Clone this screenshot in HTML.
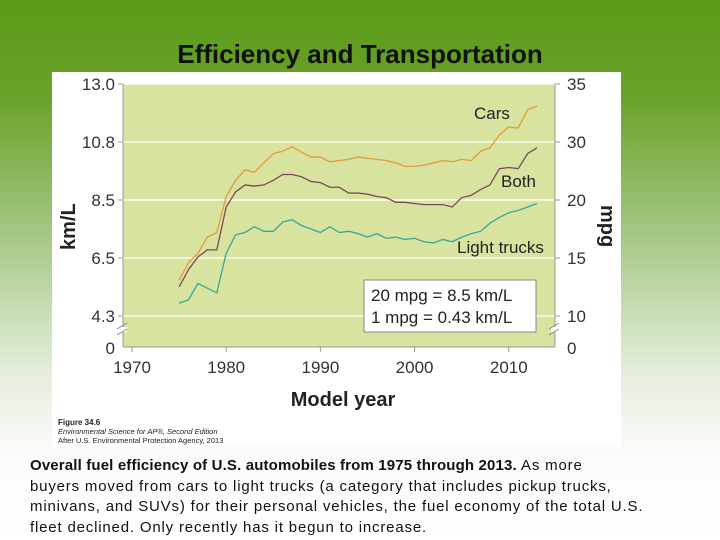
<!DOCTYPE html>
<html><head><meta charset="utf-8"><style>
body{margin:0;width:720px;height:540px;overflow:hidden;font-family:"Liberation Sans",sans-serif;
background:linear-gradient(180deg,#5b9a17 0%,#6aa22a 18%,#a9c98a 45%,#e6efe0 70%,#fbfcfa 85%,#fff 100%);position:relative}
#title{position:absolute;left:0;width:720px;top:39px;text-align:center;font-weight:bold;font-size:26px;color:#111}
#panel{position:absolute;left:52px;top:72px;width:569px;height:375px;background:#fff}
#caption{position:absolute;left:30px;top:456px;width:690px;font-size:15px;line-height:20.5px;color:#111;white-space:nowrap}
#caption b{letter-spacing:0.15px}
#caption span{letter-spacing:0.82px}
</style></head><body>
<div id="title">Efficiency and Transportation</div>
<div id="panel"></div>
<svg id="chart" width="720" height="540" style="position:absolute;left:0;top:0"></svg>
<div id="caption"><b>Overall fuel efficiency of U.S. automobiles from 1975 through 2013.</b><span> As more</span><br><span>buyers moved from cars to light trucks (a category that includes pickup trucks,</span><br><span>minivans, and SUVs) for their personal vehicles, the fuel economy of the total U.S.</span><br><span>fleet declined. Only recently has it begun to increase.</span></div>
<script>
const years=[];for(let y=1975;y<=2013;y++)years.push(y);
const cars=[13.1,14.6,15.4,16.8,17.2,20.6,23.4,25.2,24.8,26.4,28.0,28.4,29.2,28.2,27.4,27.4,26.6,26.8,27.0,27.4,27.2,27.0,26.8,26.4,25.8,25.8,26.0,26.4,26.8,26.6,27.0,26.8,28.4,29.0,30.6,31.3,31.2,32.8,33.1];
const both=[12.5,14.0,15.1,15.7,15.7,19.4,21.4,22.6,22.4,22.6,23.4,24.4,24.4,24.0,23.2,23.0,22.2,22.2,21.2,21.2,21.0,20.6,20.4,19.8,19.8,19.7,19.6,19.6,19.6,19.4,20.4,20.8,21.8,22.6,25.4,25.6,25.4,28.0,29.0];
const trucks=[11.1,11.4,12.8,12.4,12.0,15.4,17.0,17.2,17.7,17.3,17.3,18.1,18.3,17.8,17.5,17.2,17.7,17.2,17.3,17.1,16.8,17.1,16.7,16.8,16.6,16.7,16.4,16.3,16.6,16.4,16.8,17.1,17.3,18.0,18.5,18.9,19.1,19.4,19.7];
const mpgTicks=[10,15,20,30,35];
const kmlTicks=["4.3","6.5","8.5","10.8","13.0"];
const xTicks=[1970,1980,1990,2000,2010];

const svg=document.getElementById('chart');const NS='http://www.w3.org/2000/svg';
function mk(t,a,p){const e=document.createElementNS(NS,t);for(const k in a)e.setAttribute(k,a[k]);(p||svg).appendChild(e);return e;}
const L=123,R=555,T=84,B=347;
function xs(y){return 132+(y-1970)*9.42;}
function ys(v){
 if(v<=mpgTicks[0])return B-(v/mpgTicks[0])*(B-316);
 for(let i=0;i<mpgTicks.length-1;i++){if(v<=mpgTicks[i+1]){return 316-58*(i+(v-mpgTicks[i])/(mpgTicks[i+1]-mpgTicks[i]));}}
 return 316-58*(mpgTicks.length-1);}
let e=mk('rect',{x:L,y:T,width:R-L,height:B-T,fill:'#d7e39e'});

mpgTicks.forEach((m,i)=>{
 const g=mk('line',{x1:L,x2:R,y1:ys(m),y2:ys(m),stroke:'#fff','stroke-width':1.2});
 
 mk('line',{x1:L-5,x2:L,y1:ys(m),y2:ys(m),stroke:'#999'});mk('line',{x1:R,x2:R+5,y1:ys(m),y2:ys(m),stroke:'#999'});
 const t=mk('text',{x:L-8,y:ys(m)+6,'text-anchor':'end','font-size':17,fill:'#333'});t.textContent=kmlTicks[i];
 
 const t2=mk('text',{x:R+12,y:ys(m)+6,'font-size':17,fill:'#333'});t2.textContent=m;
 
});
[['0',L-8,'end'],['0',R+12,'start']].forEach(a=>{const t=mk('text',{x:a[1],y:B+7,'text-anchor':a[2],'font-size':17,fill:'#333'});t.textContent=a[0];
 });
mk('line',{x1:L,x2:L,y1:T,y2:B,stroke:'#999'});mk('line',{x1:R,x2:R,y1:T,y2:B,stroke:'#999'});mk('line',{x1:L,x2:R,y1:B,y2:B,stroke:'#999'});
[L,R].forEach(x=>{mk('rect',{x:x-4,y:327,width:8,height:5,fill:'#fff'});mk('line',{x1:x-6,y1:329,x2:x+4,y2:323,stroke:'#888'});mk('line',{x1:x-6,y1:335,x2:x+4,y2:329,stroke:'#888'});});
xTicks.forEach(y=>{mk('line',{x1:xs(y),x2:xs(y),y1:B,y2:B+5,stroke:'#999'});
 const t=mk('text',{x:xs(y),y:B+26,'text-anchor':'middle','font-size':17,fill:'#333'});t.textContent=y;
 });
function line(d,c,n){const p=mk('polyline',{points:d.map((v,i)=>xs(years[i])+','+ys(v)).join(' '),fill:'none',stroke:c,'stroke-width':1.3});
 }
line(cars,'#e59a3c','cars-line');line(both,'#7b4a55','both-line');line(trucks,'#38a898','light-trucks-line');
function txt(s,x,y,sz,w,n,a){const t=mk('text',Object.assign({x:x,y:y,'font-size':sz,fill:'#222','font-weight':w||'normal'},a||{}));t.textContent=s;
 return t;}
txt('Cars',474,119,17,'','cars-label');txt('Both',501,187,17,'','both-label');txt('Light trucks',457,253,17,'','light-trucks-label');
const bx=mk('rect',{x:364,y:280,width:172,height:52,fill:'#fff',stroke:'#888'});

txt('20 mpg = 8.5 km/L',371,301,17,'','conversion-line-1');txt('1 mpg = 0.43 km/L',371,323,17,'','conversion-line-2');
txt('km/L',0,0,20,'bold','y-axis-title-left',{transform:'translate(75,250) rotate(-90)'});
txt('mpg',0,0,20,'bold','y-axis-title-right',{transform:'translate(601,205) rotate(90)'});
txt('Model year',343,406,20,'bold','x-axis-title',{'text-anchor':'middle'});
txt('Figure 34.6',58,425,8,'bold','figure-number');
txt('Environmental Science for AP®, Second Edition',58,434,7.5,'','figure-source',{'font-style':'italic'});
txt('After U.S. Environmental Protection Agency, 2013',58,443,7.5,'','figure-credit');
</script></body></html>
